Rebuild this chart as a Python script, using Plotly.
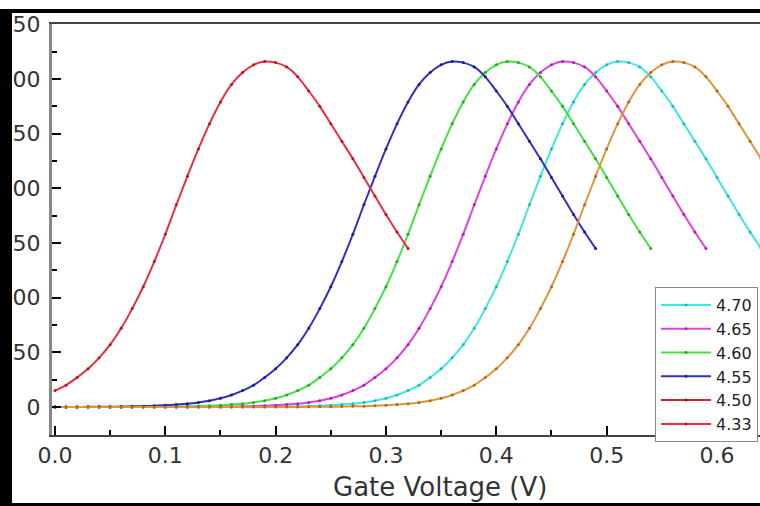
import plotly.graph_objects as go

# ---- data ----
VOLTAGE = [0.00, 0.01, 0.02, 0.03, 0.04, 0.05, 0.06, 0.07, 0.08, 0.09,
           0.10, 0.11, 0.12, 0.13, 0.14, 0.15, 0.16, 0.17, 0.18, 0.19,
           0.20, 0.21, 0.22, 0.23, 0.24, 0.25, 0.26, 0.27, 0.28, 0.29,
           0.30, 0.31, 0.32, 0.33, 0.34, 0.35, 0.36, 0.37, 0.38, 0.39,
           0.40, 0.41, 0.42, 0.43, 0.44, 0.45, 0.46, 0.47, 0.48, 0.49,
           0.50, 0.51, 0.52, 0.53, 0.54, 0.55, 0.56, 0.57, 0.58, 0.59,
           0.60, 0.61, 0.62, 0.63, 0.64, 0.65, 0.66, 0.67, 0.68, 0.69]

CUR_433 = [15, 20, 27, 35, 45, 57, 72, 90, 110, 133, 158, 185, 211, 236, 259, 279, 295,
           306, 313, 316, 315, 311, 302, 289, 275, 259, 243, 227, 210, 193, 176, 160, 145]

CUR_455 = [0.1, 0.1, 0.1, 0.15, 0.2, 0.3, 0.4, 0.6, 0.8, 1.1, 1.6, 2.2, 3.0, 4.2, 5.8, 8, 11,
           15, 20, 27, 35, 45, 57, 72, 90, 110, 133, 158, 185, 211, 236, 259, 279, 295,
           306, 313, 316, 315, 311, 302, 289, 275, 259, 243, 227, 210, 193, 176, 160, 145]

CUR_460 = [0, 0, 0, 0, 0,
           0.1, 0.1, 0.1, 0.15, 0.2, 0.3, 0.4, 0.6, 0.8, 1.1, 1.6, 2.2, 3.0, 4.2, 5.8, 8, 11,
           15, 20, 27, 35, 45, 57, 72, 90, 110, 133, 158, 185, 211, 236, 259, 279, 295,
           306, 313, 316, 315, 311, 302, 289, 275, 259, 243, 227, 210, 193, 176, 160, 145]

CUR_465 = [0, 0, 0, 0, 0, 0, 0, 0, 0, 0,
           0.1, 0.1, 0.1, 0.15, 0.2, 0.3, 0.4, 0.6, 0.8, 1.1, 1.6, 2.2, 3.0, 4.2, 5.8, 8, 11,
           15, 20, 27, 35, 45, 57, 72, 90, 110, 133, 158, 185, 211, 236, 259, 279, 295,
           306, 313, 316, 315, 311, 302, 289, 275, 259, 243, 227, 210, 193, 176, 160, 145]

CUR_470 = [0, 0, 0, 0, 0, 0, 0, 0, 0, 0, 0, 0, 0, 0, 0,
           0.1, 0.1, 0.1, 0.15, 0.2, 0.3, 0.4, 0.6, 0.8, 1.1, 1.6, 2.2, 3.0, 4.2, 5.8, 8, 11,
           15, 20, 27, 35, 45, 57, 72, 90, 110, 133, 158, 185, 211, 236, 259, 279, 295,
           306, 313, 316, 315, 311, 302, 289, 275, 259, 243, 227, 210, 193, 176, 160, 145]

CUR_475 = [0, 0, 0, 0, 0, 0, 0, 0, 0, 0, 0, 0, 0, 0, 0, 0, 0, 0, 0, 0,
           0.1, 0.1, 0.1, 0.15, 0.2, 0.3, 0.4, 0.6, 0.8, 1.1, 1.6, 2.2, 3.0, 4.2, 5.8, 8, 11,
           15, 20, 27, 35, 45, 57, 72, 90, 110, 133, 158, 185, 211, 236, 259, 279, 295,
           306, 313, 316, 315, 311, 302, 289, 275, 259, 243, 227, 210, 193, 176, 160, 145]

SERIES = [
    ("4.70", CUR_470, "#3ee6e0", "#22b8b4", True),
    ("4.65", CUR_465, "#e040e0", "#b020b0", True),
    ("4.60", CUR_460, "#44e044", "#22aa22", True),
    ("4.55", CUR_455, "#3030c0", "#202080", True),
    ("4.50", None, "#c02a2a", "#901818", True),
    ("4.33", CUR_433, "#e63040", "#b01828", True),
    ("4.75", CUR_475, "#e0953a", "#b06a20", False),
]

Y_TICKS = [0, 50, 100, 150, 200, 250, 300, 350]
X_TICKS = [0.0, 0.1, 0.2, 0.3, 0.4, 0.5, 0.6]

FONT = "DejaVu Sans"

fig = go.Figure()
for name, ys, col, mcol, show in SERIES:
    if ys is None:
        xs, yy = [None], [None]
    else:
        xs, yy = VOLTAGE[:len(ys)], ys
    fig.add_trace(go.Scatter(
        x=xs, y=yy, name=name, mode="lines+markers",
        line=dict(color=col, width=2, shape="spline", smoothing=1.0),
        marker=dict(color=mcol, size=3, symbol="circle"),
        showlegend=show,
    ))

W, H = 760, 506
L, R, T, B = 52, 0, 24, 71


def px_x(p):
    return (p - L) / (W - L - R)


def px_y(p):
    return (H - B - p) / (H - T - B)


fig.update_layout(
    width=W, height=H,
    template="none",
    paper_bgcolor="white", plot_bgcolor="white",
    margin=dict(l=L, r=R, t=T, b=B, pad=0),
    font=dict(family=FONT, color="#333"),
    showlegend=True,
    legend=dict(
        x=px_x(655), y=px_y(287), xanchor="left", yanchor="top",
        bgcolor="white", bordercolor="#888", borderwidth=1,
        font=dict(family=FONT, size=16, color="#222"),
        itemwidth=50, tracegroupgap=0,
    ),
    xaxis=dict(
        range=[-0.0027, 0.639], tickvals=X_TICKS, tickformat=".1f",
        ticks="inside", ticklen=9, tickwidth=2, tickcolor="black",
        minor=dict(dtick=0.05, ticks="inside", ticklen=5, tickwidth=2, tickcolor="black"),
        showline=True, linecolor="#444", linewidth=2, mirror=True,
        showgrid=False, zeroline=False, automargin=False,
        tickfont=dict(family=FONT, size=22, color="#333"),
        ticklabelstandoff=0,
    ),
    yaxis=dict(
        range=[-25.6, 350.3], tickvals=Y_TICKS,
        ticks="inside", ticklen=9, tickwidth=2, tickcolor="black",
        minor=dict(dtick=25, ticks="inside", ticklen=5, tickwidth=2, tickcolor="black"),
        showline=True, linecolor="#888", linewidth=3, mirror=False,
        showgrid=False, zeroline=False, automargin=False,
        tickfont=dict(family=FONT, size=22, color="#333"),
        ticklabelstandoff=4,
    ),
    annotations=[dict(
        text="Gate Voltage (V)", xref="paper", yref="paper",
        x=px_x(440), y=px_y(487), xanchor="center", yanchor="middle",
        showarrow=False, font=dict(family=FONT, size=26, color="#333"),
    )],
    shapes=[
        # outer black frame of the cropped figure
        dict(type="rect", xref="paper", yref="paper", layer="above",
             x0=px_x(0), x1=px_x(12), y0=px_y(506), y1=px_y(9),
             fillcolor="black", line=dict(width=0)),
        dict(type="rect", xref="paper", yref="paper", layer="above",
             x0=px_x(0), x1=px_x(760), y0=px_y(13), y1=px_y(9),
             fillcolor="black", line=dict(width=0)),
        dict(type="rect", xref="paper", yref="paper", layer="above",
             x0=px_x(0), x1=px_x(760), y0=px_y(506), y1=px_y(503),
             fillcolor="black", line=dict(width=0)),
    ],
)

fig.write_html(
    "out.html",
    config={"displayModeBar": False},
    post_script="document.body.style.margin='0';document.body.style.overflow='hidden';",
)
